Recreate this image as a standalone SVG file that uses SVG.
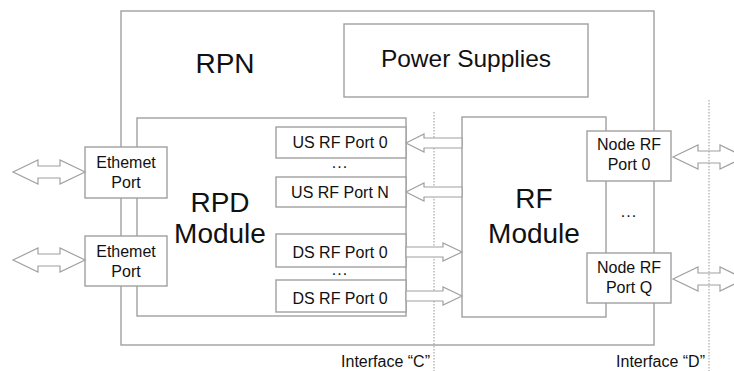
<svg xmlns="http://www.w3.org/2000/svg" width="734" height="371" viewBox="0 0 734 371">
<style>
.box{fill:#fff;stroke:#a0a0a0;stroke-width:1.4}
.t{font-family:"Liberation Sans",Arial,sans-serif;fill:#111;text-anchor:middle}
.big{font-size:28px}
.mid{font-size:24.5px}
.sm{font-size:16px}
.arr{fill:#fff;stroke:#a0a0a0;stroke-width:1.2;stroke-linejoin:miter}
.dot{stroke:#a8a8a8;stroke-width:1.2;stroke-dasharray:1.5 1.5;fill:none}
</style>
<rect width="734" height="371" fill="#fff"/>
<g id="rpn">
<rect class="box" x="121" y="11" width="533" height="334"/>
<text class="t big" x="225" y="73">RPN</text>
</g>
<g id="power-supplies">
<rect class="box" x="344" y="24" width="244" height="73"/>
<text class="t mid" x="466" y="67">Power Supplies</text>
</g>
<g id="rpd-module">
<rect class="box" x="137" y="118" width="269" height="198"/>
<text class="t big" x="220" y="212">RPD</text>
<text class="t big" x="220" y="243">Module</text>
</g>
<g id="ethernet-port-1">
<rect class="box" x="85" y="147" width="82" height="51"/>
<text class="t sm" x="126" y="168">Ethemet</text>
<text class="t sm" x="126" y="188">Port</text>
</g>
<g id="ethernet-port-2">
<rect class="box" x="85" y="236" width="82" height="50"/>
<text class="t sm" x="126" y="257">Ethemet</text>
<text class="t sm" x="126" y="277">Port</text>
</g>
<g id="us-rf-port-0">
<rect class="box" x="276" y="127" width="130" height="31"/>
<text class="t sm" x="340" y="148">US RF Port 0</text>
</g>
<text class="t sm" x="340" y="168" letter-spacing="1">...</text>
<g id="us-rf-port-n">
<rect class="box" x="276" y="177" width="130" height="30"/>
<text class="t sm" x="340" y="198">US RF Port N</text>
</g>
<g id="ds-rf-port-0a">
<rect class="box" x="276" y="234" width="130" height="33"/>
<text class="t sm" x="340" y="258">DS RF Port 0</text>
</g>
<text class="t sm" x="340" y="275" letter-spacing="1">...</text>
<g id="ds-rf-port-0b">
<rect class="box" x="276" y="280" width="130" height="32"/>
<text class="t sm" x="340" y="304">DS RF Port 0</text>
</g>
<g id="rf-module">
<rect class="box" x="462" y="117" width="144" height="200"/>
<text class="t big" x="534" y="208">RF</text>
<text class="t big" x="534" y="243">Module</text>
</g>
<g id="node-rf-port-0">
<rect class="box" x="587" y="131" width="84" height="50"/>
<text class="t sm" x="629" y="150">Node RF</text>
<text class="t sm" x="629" y="170">Port 0</text>
</g>
<text class="t sm" x="629" y="217" letter-spacing="1">...</text>
<g id="node-rf-port-q">
<rect class="box" x="587" y="253" width="84" height="50"/>
<text class="t sm" x="629" y="273">Node RF</text>
<text class="t sm" x="629" y="293">Port Q</text>
</g>
<g id="interface-c">
<line class="dot" x1="434" y1="112" x2="434" y2="371"/>
<text class="t sm" x="430" y="367" style="text-anchor:end">Interface “C”</text>
</g>
<g id="connectors">
<path class="arr" d="M13,172 L38,160 L38,166 L60,166 L60,160 L85,172 L60,184 L60,178 L38,178 L38,184 Z"/>
<path class="arr" d="M13,260 L38,248 L38,254 L60,254 L60,248 L85,260 L60,272 L60,266 L38,266 L38,272 Z"/>
<path class="arr" d="M406,143 L424,134 L424,138 L462,138 L462,148 L424,148 L424,152 Z"/>
<path class="arr" d="M406,192 L424,183 L424,187 L462,187 L462,197 L424,197 L424,201 Z"/>
<path class="arr" d="M406,247 L443,247 L443,243 L462,252 L443,261 L443,257 L406,257 Z"/>
<path class="arr" d="M406,291 L443,291 L443,287 L462,296 L443,305 L443,301 L406,301 Z"/>
<path class="arr" d="M673,157 L698,145 L698,151 L720,151 L720,145 L745,157 L720,169 L720,163 L698,163 L698,169 Z"/>
<path class="arr" d="M673,279 L698,267 L698,273 L720,273 L720,267 L745,279 L720,291 L720,285 L698,285 L698,291 Z"/>
</g>
<g id="interface-d">
<line class="dot" x1="709" y1="100" x2="709" y2="371"/>
<text class="t sm" x="705" y="367" style="text-anchor:end">Interface “D”</text>
</g>
</svg>
